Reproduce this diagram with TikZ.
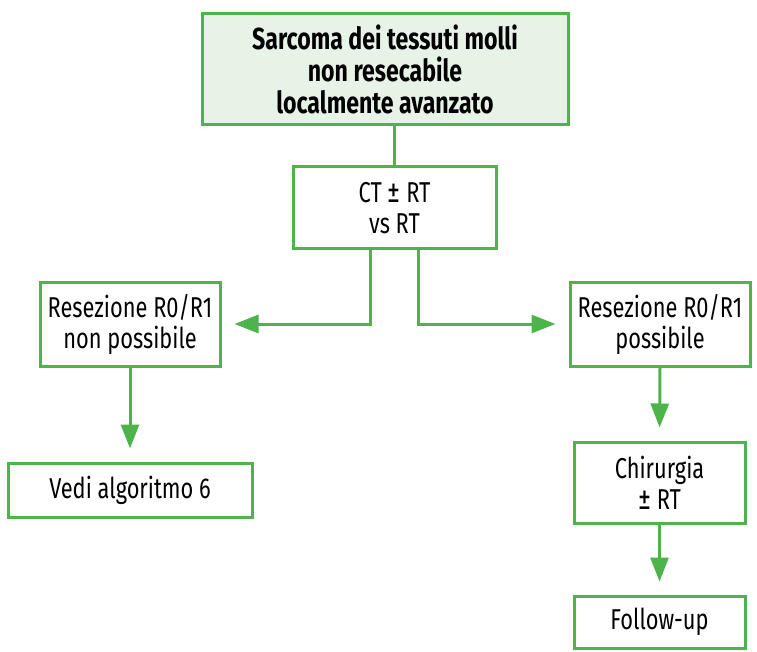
\documentclass[tikz,border=0pt]{standalone}
\usepackage{fontspec}
\setmainfont{Fira Sans}[FakeStretch=0.76]
\usetikzlibrary{arrows.meta}
\definecolor{flowgreen}{HTML}{4DB34B}
\definecolor{headfill}{HTML}{E8F3E8}
\newcommand\plusminus{{\fontsize{34}{31}\selectfont ±}}
\tikzset{
  box/.style={draw=flowgreen, line width=3pt, fill=white, align=center,
    inner sep=0pt, font=\fontsize{28.7}{31}\selectfont},
  flow/.style={draw=flowgreen, line width=3pt},
  arrowflow/.style={flow, -{Triangle[length=24pt,width=18pt]}, shorten >=13pt},
}
\begin{document}
\begin{tikzpicture}[x=1pt,y=-1pt]
  \useasboundingbox (0,0) rectangle (757,652);
  % boxes
  \node[box, fill=headfill, minimum width=366pt, minimum height=111pt,
        font=\bfseries\fontsize{30.4}{32}\selectfont] (top) at (385,69.5)
        {Sarcoma dei tessuti molli\\non resecabile\\localmente avanzato};
  \node[box, minimum width=203pt, minimum height=82pt] (ct) at (394.5,208)
        {CT \plusminus{} RT\\vs RT};
  \node[box, minimum width=180pt, minimum height=84pt] (lbox) at (130,324)
        {Resezione R0/R1\\non possibile};
  \node[box, minimum width=244pt, minimum height=54pt] (vedi) at (130,490)
        {Vedi algoritmo 6};
  \node[box, minimum width=180pt, minimum height=84pt] (rbox) at (660,324)
        {Resezione R0/R1\\possibile};
  \node[box, minimum width=171pt, minimum height=81pt] (chir) at (659.5,482.5)
        {Chirurgia\\\plusminus{} RT};
  \node[box, minimum width=171pt, minimum height=52pt] (fu) at (659.5,622)
        {Follow-up};
  % connectors
  \draw[flow] (ct.north |- top.south) -- (ct.north);
  \draw[arrowflow] ([xshift=-24pt]ct.south) |- (lbox.east);
  \draw[arrowflow] ([xshift=24pt]ct.south) |- (rbox.west);
  \draw[arrowflow] (lbox.south) -- (vedi.north);
  \draw[arrowflow] (rbox.south) -- (chir.north);
  \draw[arrowflow] (chir.south) -- (fu.north);
\end{tikzpicture}
\end{document}
